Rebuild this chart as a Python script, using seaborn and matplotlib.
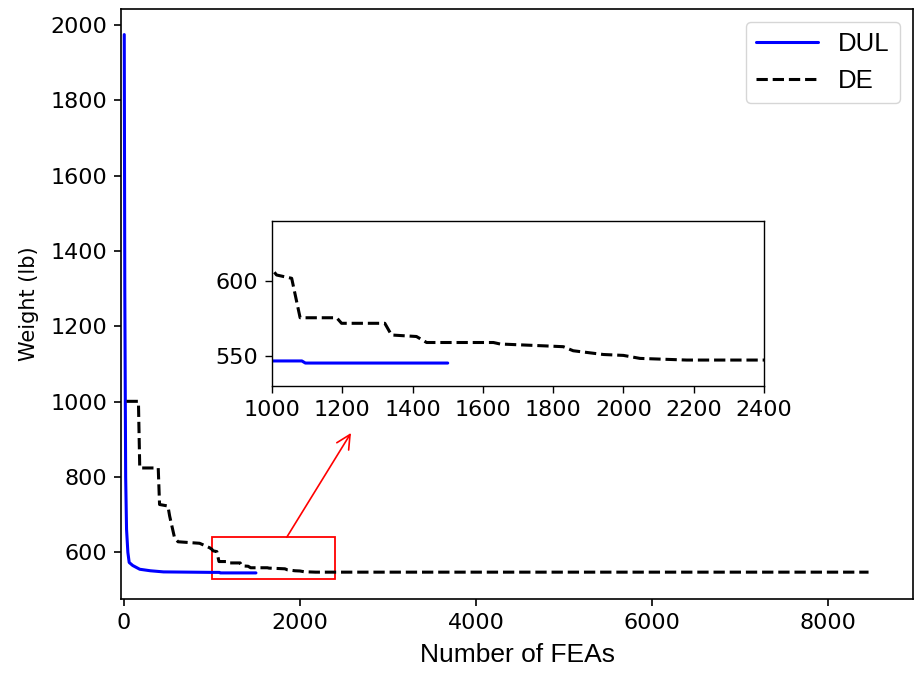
import pandas as pd
import matplotlib
matplotlib.use('Agg')
import matplotlib.pyplot as plt
import matplotlib.patches as patches
import seaborn as sns

# Convergence histories
dul_fea = [4, 10, 20, 30, 45, 60, 100, 180, 300, 450, 1000, 1085, 1095, 1500]
dul_weight = [1975, 1300, 800, 661, 600, 573, 565, 555, 551, 548,
              546.7, 546.7, 545.3, 545.3]

de_fea = [30, 165, 180, 390, 405, 500, 520, 575, 615, 860, 975, 1000, 1013,
          1056, 1080, 1184, 1198, 1321, 1340, 1411, 1440, 1630, 1649, 1781,
          1829, 1857, 1943, 2000, 2047, 2180, 8460]
de_weight = [1001, 1001, 824, 824, 727, 723, 696, 639, 628, 624, 612, 607.8,
             604, 601.8, 575.5, 575.5, 571.8, 571.8, 564, 563, 559, 559, 558,
             556.7, 556.2, 553.5, 551, 550.4, 548.4, 547.3, 547.3]

# Axis settings
main_xticks = [0, 2000, 4000, 6000, 8000]
main_yticks = [600, 800, 1000, 1200, 1400, 1600, 1800, 2000]
zoom_x = [1000, 2400]
zoom_y = [530, 640]
inset_xticks = [1000, 1200, 1400, 1600, 1800, 2000, 2200, 2400]
inset_yticks = [550, 600]

dul = pd.DataFrame({'FEAs': dul_fea, 'Weight': dul_weight})
de = pd.DataFrame({'FEAs': de_fea, 'Weight': de_weight})

sns.set_style('ticks')
plt.rcParams['font.family'] = ['DejaVu Sans']
plt.rcParams['text.color'] = 'black'
plt.rcParams['axes.labelcolor'] = 'black'
plt.rcParams['xtick.color'] = 'black'
plt.rcParams['ytick.color'] = 'black'

fig = plt.figure(figsize=(9.14, 6.74), dpi=100)
ax = fig.add_axes([121 / 914, 1 - 599 / 674, (913 - 121) / 914, (599 - 9) / 674])

sns.lineplot(data=dul, x='FEAs', y='Weight', ax=ax, color='blue', lw=2.2,
             estimator=None, label='DUL')
sns.lineplot(data=de, x='FEAs', y='Weight', ax=ax, color='black', lw=2.2,
             linestyle='--', estimator=None, label='DE')

ax.set_xlim(-33, 8965)
ax.set_ylim(476, 2043)
ax.set_xticks(main_xticks)
ax.set_yticks(main_yticks)
ax.tick_params(labelsize=16, length=5, width=1.2, pad=5)
for s in ax.spines.values():
    s.set_linewidth(1.2)
    s.set_color('black')
ax.set_xlabel('Number of FEAs', fontsize=19, family='Liberation Sans', labelpad=7)
ax.set_ylabel('Weight (lb)', fontsize=15, labelpad=8)

ax.legend(loc='upper right', prop={'family': 'Liberation Sans', 'size': 18.5},
          handlelength=2.4)

# zoom box and arrow to the inset
rect = patches.Rectangle((zoom_x[0], zoom_y[0]), zoom_x[1] - zoom_x[0],
                         zoom_y[1] - zoom_y[0], fill=False, edgecolor='red', lw=1.3)
ax.add_patch(rect)
ax.annotate('', xy=(2580, 917), xytext=(1850, 640),
            arrowprops=dict(arrowstyle='->', color='red', lw=1.2,
                            mutation_scale=25, shrinkA=0, shrinkB=0))

# Inset
axin = fig.add_axes([272 / 914, 1 - 386 / 674, (764 - 272) / 914, (386 - 221) / 674])
sns.lineplot(data=dul, x='FEAs', y='Weight', ax=axin, color='blue', lw=2.2,
             estimator=None, legend=False)
sns.lineplot(data=de, x='FEAs', y='Weight', ax=axin, color='black', lw=2.2,
             linestyle='--', estimator=None, legend=False)
axin.set_xlim(zoom_x)
axin.set_ylim(zoom_y)
axin.set_xticks(inset_xticks)
axin.set_yticks(inset_yticks)
axin.set_xlabel('')
axin.set_ylabel('')
axin.tick_params(labelsize=16, length=5, width=1, pad=5)
for s in axin.spines.values():
    s.set_linewidth(1)
    s.set_color('black')

fig.savefig('out.png', dpi=100)
